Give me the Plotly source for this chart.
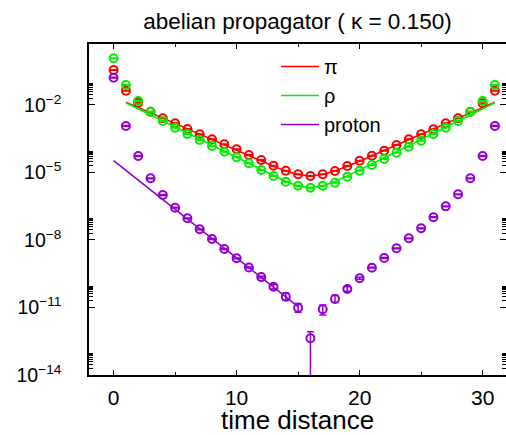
import plotly.graph_objects as go

# ---------------- data ----------------
t = list(range(32))

pi_log10 = [-0.444, -1.364, -1.898, -2.298, -2.591, -2.813, -3.067, -3.302,
            -3.524, -3.747, -3.969, -4.222, -4.444, -4.698, -4.920, -5.080,
            -5.156, -5.080, -4.933, -4.711, -4.476, -4.253, -4.031, -3.778,
            -3.524, -3.302, -3.080, -2.813, -2.591, -2.298, -1.924, -1.364]

rho_log10 = [0.076, -1.111, -1.822, -2.298, -2.711, -3.009, -3.289, -3.556,
             -3.822, -4.076, -4.324, -4.591, -4.889, -5.156, -5.409, -5.587,
             -5.676, -5.587, -5.453, -5.187, -4.920, -4.667, -4.400, -4.120,
             -3.853, -3.587, -3.289, -3.009, -2.711, -2.298, -1.822, -1.111]

proton_log10 = [-0.787, -2.933, -4.267, -5.258, -6.000, -6.564, -7.036, -7.524,
                -7.956, -8.400, -8.813, -9.222, -9.650, -10.076, -10.520, -11.009,
                -12.369, -11.080, -10.622, -10.178, -9.702, -9.231, -8.800, -8.369,
                -7.924, -7.480, -6.987, -6.505, -5.969, -5.258, -4.267, -2.933]

meson_rel_err = [0.03] * 32
proton_rel_err_plus = [0.04] * 12 + [0.08, 0.25, 0.45, 0.55, 0.95, 0.55, 0.45, 0.25, 0.10] + [0.04] * 11
proton_rel_err_minus = [0.04] * 12 + [0.08, 0.20, 0.30, 0.38, 1.50, 0.44, 0.30, 0.20, 0.10] + [0.04] * 11

fit_t = list(range(1, 32))
pi_fit_log10 = [-1.874, -2.113, -2.352, -2.591, -2.830, -3.069, -3.307, -3.546,
                -3.785, -4.023, -4.261, -4.496, -4.725, -4.934, -5.093, -5.156,
                -5.093, -4.934, -4.725, -4.496, -4.261, -4.023, -3.785, -3.546,
                -3.307, -3.069, -2.830, -2.591, -2.352, -2.113, -1.874]
rho_fit_log10 = [-1.899, -2.171, -2.443, -2.715, -2.987, -3.258, -3.530, -3.802,
                 -4.074, -4.346, -4.617, -4.887, -5.151, -5.399, -5.596, -5.676,
                 -5.596, -5.399, -5.151, -4.887, -4.617, -4.346, -4.074, -3.802,
                 -3.530, -3.258, -2.987, -2.715, -2.443, -2.171, -1.899]
proton_fit_t = [0, 15]
proton_fit_log10 = [-4.476, -10.96]

series_names = ["π", "ρ", "proton"]
colors = ["#ff0000", "#00ee00", "#9400d3"]

y_tick_exponents = [-14, -11, -8, -5, -2]
y_tick_labels = ["10<sup>−14</sup>", "10<sup>−11</sup>", "10<sup>−8</sup>",
                 "10<sup>−5</sup>", "10<sup>−2</sup>"]

# ---------------- figure ----------------
FONT = "Liberation Sans, Arial, sans-serif"


def vals(logs):
    return [10 ** v for v in logs]


fig = go.Figure()

point_sets = [
    (pi_log10, meson_rel_err, meson_rel_err, pi_fit_log10, fit_t),
    (rho_log10, meson_rel_err, meson_rel_err, rho_fit_log10, fit_t),
    (proton_log10, proton_rel_err_plus, proton_rel_err_minus, proton_fit_log10, proton_fit_t),
]

for (logs, ep, em, fit_logs, ft), name, col in zip(point_sets, series_names, colors):
    y = vals(logs)
    fig.add_trace(go.Scatter(
        x=t, y=y, mode="markers", showlegend=False, hoverinfo="skip",
        marker=dict(symbol="circle-open", size=8, color=col, line=dict(width=2, color=col)),
        error_y=dict(type="data", symmetric=False,
                     array=[v * e for v, e in zip(y, ep)],
                     arrayminus=[v * e for v, e in zip(y, em)],
                     color=col, thickness=1.5, width=3.5),
    ))
    fig.add_trace(go.Scatter(
        x=ft, y=vals(fit_logs), mode="lines", name=name,
        line=dict(color=col, width=1.6),
    ))

minor_y = [m * 10 ** k for k in y_tick_exponents for m in range(2, 10)]

fig.update_layout(
    width=506, height=435,
    margin=dict(l=89, r=0, t=44, b=60, autoexpand=False),
    paper_bgcolor="white", plot_bgcolor="white",
    font=dict(family=FONT, color="black"),
    title=dict(text="abelian propagator ( κ = 0.150)", x=0.5, xref="paper", xanchor="center",
               y=1 - 21 / 435, yref="container", yanchor="middle",
               font=dict(size=22.5, family=FONT, color="black"), automargin=False),
    showlegend=True,
    legend=dict(x=(276 - 89) / 417, y=1 - (47 - 44) / 331, xanchor="left", yanchor="top",
                bgcolor="rgba(0,0,0,0)", borderwidth=0,
                font=dict(size=20, family=FONT, color="black"),
                itemwidth=38),
    annotations=[dict(text="time distance", xref="paper", yref="paper",
                      x=0.5, y=-(420 - 375) / 331, xanchor="center", yanchor="middle",
                      showarrow=False, font=dict(size=26, family=FONT, color="black"))],
)

fig.update_xaxes(
    range=[-2, 31.9], showgrid=False, zeroline=False, automargin=False,
    showline=True, linecolor="black", linewidth=1.5, mirror="ticks",
    ticks="inside", ticklen=5, tickwidth=1.2, tickcolor="black",
    tick0=0, dtick=10, tickfont=dict(size=21, family=FONT, color="black"),
    ticklabelstandoff=3,
    minor=dict(ticks="inside", ticklen=3, tickwidth=1.2, tickcolor="black", dtick=5, tick0=0, showgrid=False),
)

fig.update_yaxes(
    type="log", range=[-14, 0.71], showgrid=False, zeroline=False, automargin=False,
    showline=True, linecolor="black", linewidth=1.5, mirror="ticks",
    ticks="inside", ticklen=6, tickwidth=1.2, tickcolor="black",
    tickmode="array", tickvals=[10 ** k for k in y_tick_exponents], ticktext=y_tick_labels,
    tickfont=dict(size=19.5, family=FONT, color="black"),
    ticklabelstandoff=22,
    minor=dict(ticks="inside", ticklen=4, tickwidth=1.2, tickcolor="black",
               tickmode="array", tickvals=minor_y, showgrid=False),
)

fig.write_html("out.html", config={"displayModeBar": False},
               post_script="document.body.style.margin='0';document.body.style.overflow='hidden';")
